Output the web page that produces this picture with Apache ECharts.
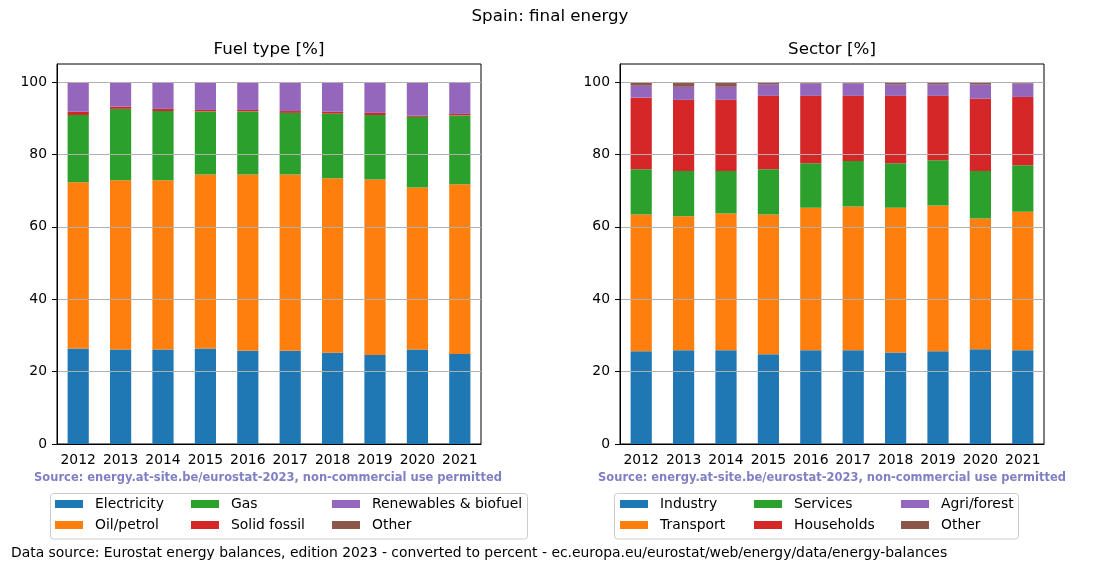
<!DOCTYPE html>
<html>
<head>
<meta charset="utf-8">
<script src="https://cdn.jsdelivr.net/npm/echarts@6/dist/echarts.min.js"></script>
<style>html,body{margin:0;padding:0;background:#fff}#c{width:1100px;height:572px}</style>
</head>
<body>
<div id="c"></div>
<script>
const years = ['2012','2013','2014','2015','2016','2017','2018','2019','2020','2021'];
const yTicks = [0, 20, 40, 60, 80, 100];

// Fuel type [%]
const fuelNames = ['Electricity', 'Oil/petrol', 'Gas', 'Solid fossil', 'Renewables & biofuel', 'Other'];
const electricity = [26.4, 26.1, 26.1, 26.4, 25.8, 25.8, 25.2, 24.6, 26.1, 24.9];
const oilPetrol   = [45.9, 46.8, 46.8, 48.1, 48.7, 48.7, 48.2, 48.5, 44.8, 46.9];
const gas         = [18.6, 19.7, 19.1, 17.4, 17.4, 17.0, 17.9, 17.8, 19.5, 19.0];
const solidFossil = [0.9, 0.6, 0.6, 0.4, 0.4, 0.5, 0.5, 0.6, 0.3, 0.4];
const renewables  = [8.2, 6.8, 7.4, 7.7, 7.7, 8.0, 8.2, 8.5, 9.3, 8.8];
const fuelOther   = [0.0, 0.0, 0.0, 0.0, 0.0, 0.0, 0.0, 0.0, 0.0, 0.0];

// Sector [%]
const sectorNames = ['Industry', 'Transport', 'Services', 'Households', 'Agri/forest', 'Other'];
const industry    = [25.6, 25.9, 25.9, 24.8, 25.9, 25.9, 25.3, 25.6, 26.2, 25.9];
const transport   = [37.8, 37.0, 37.8, 38.6, 39.4, 39.7, 40.0, 40.3, 36.1, 38.3];
const services    = [12.5, 12.5, 11.7, 12.5, 12.3, 12.6, 12.3, 12.5, 13.1, 12.8];
const households  = [19.8, 19.7, 19.7, 20.3, 18.6, 18.0, 18.6, 17.8, 20.0, 18.9];
const agriForest  = [3.3, 3.6, 3.6, 3.1, 3.4, 3.4, 3.1, 3.1, 3.9, 3.7];
const sectorOther = [1.0, 1.3, 1.3, 0.7, 0.4, 0.4, 0.7, 0.7, 0.7, 0.4];

const colors = ['#1f77b4', '#ff7f0e', '#2ca02c', '#d62728', '#9467bd', '#8c564b'];
const FONT = '"DejaVu Sans", sans-serif';
const FS = 13.9;

const fuelData = [electricity, oilPetrol, gas, solidFossil, renewables, fuelOther];
const sectorData = [industry, transport, services, households, agriForest, sectorOther];

function xAxisFor(gi) {
  return {
    type: 'category', gridIndex: gi, data: years,
    axisLine: {lineStyle: {color: '#000', width: 1}},
    axisTick: {alignWithLabel: true, interval: 0, length: 5, lineStyle: {color: '#000'}},
    axisLabel: {color: '#000', fontFamily: FONT, fontSize: FS, margin: 9, interval: 0}
  };
}
function yAxisFor(gi) {
  return {
    type: 'value', gridIndex: gi, min: 0, max: 105, interval: 20, z: 3,
    axisLine: {show: true, lineStyle: {color: '#000', width: 1}},
    axisTick: {show: true, length: 5, lineStyle: {color: '#000'}, customValues: yTicks},
    axisLabel: {color: '#000', fontFamily: FONT, fontSize: FS, margin: 10, customValues: yTicks},
    splitLine: {show: true, showMinLine: false, lineStyle: {color: '#b0b0b0', width: 1}}
  };
}

const series = [];
fuelNames.forEach((n, i) => series.push({
  name: n, type: 'bar', stack: 'fuel', xAxisIndex: 0, yAxisIndex: 0,
  barWidth: '50%', data: fuelData[i], itemStyle: {color: colors[i]}, z: 2
}));
sectorNames.forEach((n, i) => series.push({
  name: n, type: 'bar', stack: 'sector', xAxisIndex: 1, yAxisIndex: 1,
  barWidth: '50%', data: sectorData[i], itemStyle: {color: colors[i]}, z: 2
}));

function legendCol(names, left) {
  return {
    orient: 'vertical', left: left, top: 497, padding: 0,
    itemWidth: 28, itemHeight: 8, itemGap: 7, icon: 'rect',
    selectedMode: false,
    data: names,
    textStyle: {color: '#000', fontFamily: FONT, fontSize: FS, lineHeight: 14, padding: [0, 0, 0, 7]}
  };
}

const option = {
  animation: false,
  color: colors,
  grid: [
    {left: 57, right: 619, top: 64, bottom: 128, show: true, borderColor: '#000', borderWidth: 1, containLabel: false},
    {left: 620, right: 56, top: 64, bottom: 128, show: true, borderColor: '#000', borderWidth: 1, containLabel: false}
  ],
  xAxis: [xAxisFor(0), xAxisFor(1)],
  yAxis: [yAxisFor(0), yAxisFor(1)],
  legend: [
    legendCol([fuelNames[0], fuelNames[1]], 55),
    legendCol([fuelNames[2], fuelNames[3]], 191),
    legendCol([fuelNames[4], fuelNames[5]], 332),
    legendCol([sectorNames[0], sectorNames[1]], 620),
    legendCol([sectorNames[2], sectorNames[3]], 754),
    legendCol([sectorNames[4], sectorNames[5]], 901)
  ],
  series: series,
  graphic: [
    {type: 'text', x: 550, y: 17, style: {text: 'Spain: final energy', font: '16.7px ' + FONT, fill: '#000', textAlign: 'center', textVerticalAlign: 'middle'}},
    {type: 'text', x: 269, y: 50, style: {text: 'Fuel type [%]', font: '16.7px ' + FONT, fill: '#000', textAlign: 'center', textVerticalAlign: 'middle'}},
    {type: 'text', x: 832, y: 50, style: {text: 'Sector [%]', font: '16.7px ' + FONT, fill: '#000', textAlign: 'center', textVerticalAlign: 'middle'}},
    {type: 'text', x: 268, y: 478, style: {text: 'Source: energy.at-site.be/eurostat-2023, non-commercial use permitted', font: 'bold 11.5px ' + FONT, fill: '#7f7fc4', textAlign: 'center', textVerticalAlign: 'middle'}},
    {type: 'text', x: 832, y: 478, style: {text: 'Source: energy.at-site.be/eurostat-2023, non-commercial use permitted', font: 'bold 11.5px ' + FONT, fill: '#7f7fc4', textAlign: 'center', textVerticalAlign: 'middle'}},
    {type: 'text', x: 11, y: 553, style: {text: 'Data source: Eurostat energy balances, edition 2023 - converted to percent - ec.europa.eu/eurostat/web/energy/data/energy-balances', font: FS + 'px ' + FONT, fill: '#000', textAlign: 'left', textVerticalAlign: 'middle'}},
    {type: 'rect', shape: {x: 50.5, y: 493.5, width: 477, height: 45.5, r: 3}, style: {fill: 'rgba(255,255,255,0.8)', stroke: '#cccccc', lineWidth: 1}, z: -1},
    {type: 'rect', shape: {x: 614.5, y: 493.5, width: 404, height: 45.5, r: 3}, style: {fill: 'rgba(255,255,255,0.8)', stroke: '#cccccc', lineWidth: 1}, z: -1}
  ]
};

const chart = echarts.init(document.getElementById('c'), null, {renderer: 'canvas'});
chart.setOption(option);
</script>
</body>
</html>
